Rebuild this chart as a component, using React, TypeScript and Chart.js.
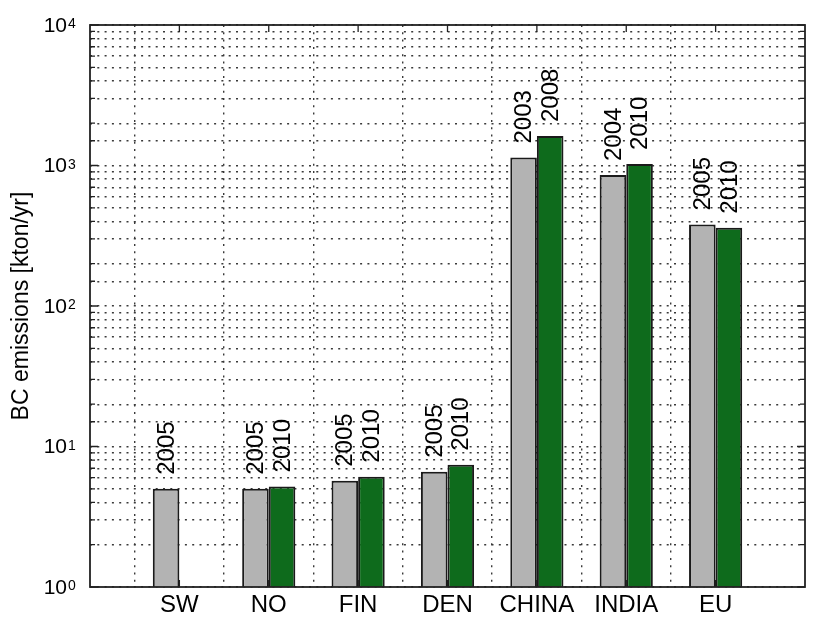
import React, { useEffect, useRef } from "react";
import { Chart, registerables } from "chart.js";

Chart.register(...registerables);

const categories = ["SW", "NO", "FIN", "DEN", "CHINA", "INDIA", "EU"];
const earlyValues: (number | null)[] = [5.0, 5.0, 5.7, 6.6, 1140, 856, 381];
const lateValues: (number | null)[] = [null, 5.2, 6.1, 7.4, 1620, 1025, 361];
const earlyYears: (string | null)[] = ["2005", "2005", "2005", "2005", "2003", "2004", "2005"];
const lateYears: (string | null)[] = [null, "2010", "2010", "2010", "2008", "2010", "2010"];
const yExponents = [0, 1, 2, 3, 4];

const FONT = "'Liberation Sans', Arial, Helvetica, sans-serif";

export default function App() {
  const ref = useRef<HTMLCanvasElement | null>(null);

  useEffect(() => {
    const canvas = ref.current;
    if (!canvas) return;
    const labels = ["", ...categories, ""];
    const pad = (a: (number | null)[]) => [null, ...a, null];
    const yearLabels = [earlyYears, lateYears];

    const framePlugin = {
      id: "frameAndLabels",
      beforeDatasetsDraw(chart: any) {
        const { ctx, chartArea: ca, scales } = chart;
        const y = scales.y;
        const x = scales.x;
        ctx.save();
        ctx.strokeStyle = "#222";
        ctx.lineWidth = 1.3;
        y.ticks.forEach((t: any) => {
          const py = y.getPixelForValue(t.value);
          const major = Math.abs(Math.log10(t.value) - Math.round(Math.log10(t.value))) < 1e-9;
          const len = major ? 8 : 5;
          ctx.beginPath();
          ctx.moveTo(ca.left, py);
          ctx.lineTo(ca.left + len, py);
          ctx.moveTo(ca.right, py);
          ctx.lineTo(ca.right - len, py);
          ctx.stroke();
        });
        for (let i = 1; i <= categories.length; i++) {
          const px = x.getPixelForValue(i);
          ctx.beginPath();
          ctx.moveTo(px, ca.top);
          ctx.lineTo(px, ca.top + 7);
          ctx.moveTo(px, ca.bottom);
          ctx.lineTo(px, ca.bottom - 7);
          ctx.stroke();
        }
        ctx.restore();
      },
      afterDatasetsDraw(chart: any) {
        const { ctx, chartArea: ca, scales } = chart;
        ctx.save();
        ctx.fillStyle = "#000";
        ctx.font = `24px ${FONT}`;
        ctx.textAlign = "left";
        ctx.textBaseline = "middle";
        for (let d = 0; d < 2; d++) {
          const meta = chart.getDatasetMeta(d);
          meta.data.forEach((el: any, j: number) => {
            const lab = j >= 1 && j <= categories.length ? yearLabels[d][j - 1] : null;
            const v = chart.data.datasets[d].data[j];
            if (!lab || v == null) return;
            ctx.save();
            ctx.translate(el.x, el.y - 14);
            ctx.rotate(-Math.PI / 2);
            ctx.fillText(lab, 0, 1);
            ctx.restore();
          });
        }
        ctx.strokeStyle = "#222";
        ctx.lineWidth = 1.8;
        ctx.strokeRect(ca.left, ca.top, ca.right - ca.left, ca.bottom - ca.top);
        const y = scales.y;
        yExponents.forEach((p) => {
          const py = y.getPixelForValue(Math.pow(10, p));
          ctx.font = `21px ${FONT}`;
          ctx.textAlign = "right";
          ctx.textBaseline = "middle";
          ctx.fillText("10", 67, py + 1);
          ctx.font = `14px ${FONT}`;
          ctx.textAlign = "left";
          ctx.textBaseline = "alphabetic";
          ctx.fillText(String(p), 68, py + 3);
        });
        ctx.restore();
      },
    };

    const chart = new Chart(canvas, {
      type: "bar",
      data: {
        labels,
        datasets: [
          {
            data: pad(earlyValues),
            backgroundColor: "#b3b3b3",
            borderColor: "#1a1a1a",
            borderWidth: 2,
            categoryPercentage: 0.595,
            barPercentage: 1,
          },
          {
            data: pad(lateValues),
            backgroundColor: "#0e6b1c",
            borderColor: "#1a1a1a",
            borderWidth: 2,
            categoryPercentage: 0.595,
            barPercentage: 1,
          },
        ],
      },
      options: {
        responsive: false,
        animation: false,
        devicePixelRatio: 1,
        layout: { padding: { left: 0, top: 25, right: 13, bottom: 0 } },
        plugins: { legend: { display: false }, tooltip: { enabled: false } },
        scales: {
          x: {
            type: "category",
            offset: false,
            afterFit: (s: any) => {
              s.height = 30;
            },
            grid: {
              display: true,
              drawTicks: false,
              color: (c: any) =>
                c.index === 0 || c.index === labels.length - 1 ? "rgba(0,0,0,0)" : "#3a3a3a",
              lineWidth: 1.4,
            },
            border: { display: false, dash: [2, 5.3] },
            ticks: {
              color: "#000",
              font: { family: FONT, size: 24 },
              padding: 4,
              maxRotation: 0,
              autoSkip: false,
            },
          },
          y: {
            type: "logarithmic",
            min: 1,
            max: 10000,
            afterFit: (s: any) => {
              s.width = 90;
            },
            grid: {
              display: true,
              drawTicks: false,
              color: "#3a3a3a",
              lineWidth: 1.4,
            },
            border: { display: false, dash: [2, 5.3] },
            ticks: { display: false, autoSkip: false },
            title: {
              display: true,
              text: "BC emissions [kton/yr]",
              color: "#000",
              font: { family: FONT, size: 23 },
              padding: { top: 8, bottom: 0 },
            },
          },
        },
      },
      plugins: [framePlugin],
    } as any);

    return () => chart.destroy();
  }, []);

  return (
    <div style={{ position: "fixed", left: 0, top: 0, width: 818, height: 617, background: "#fff" }}>
      <canvas ref={ref} width={818} height={617} style={{ display: "block" }} />
    </div>
  );
}
